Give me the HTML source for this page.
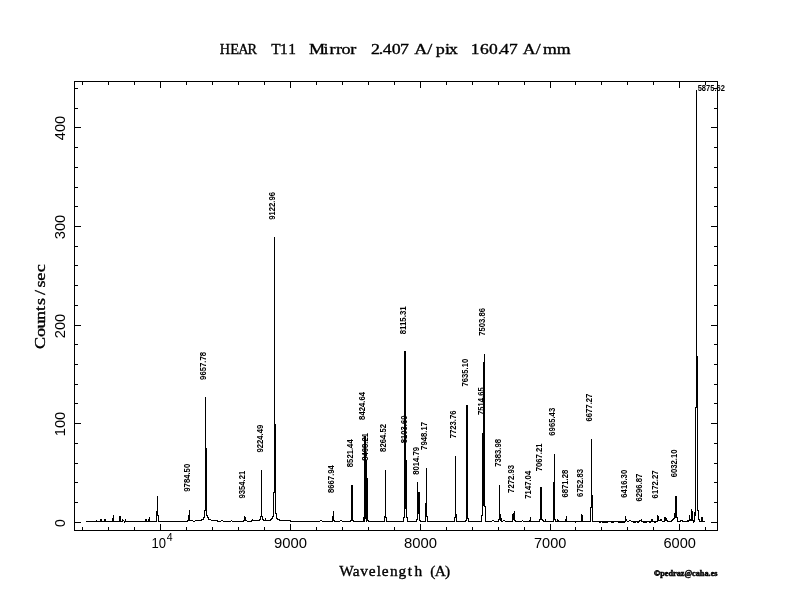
<!DOCTYPE html>
<html><head><meta charset="utf-8"><title>HEAR T11 Mirror</title>
<style>
html,body{margin:0;padding:0;background:#fff;}
svg{display:block;}
.s{font-family:"Liberation Sans",sans-serif;}
.r{font-family:"Liberation Serif",serif;}
</style></head><body>
<svg width="792" height="612" viewBox="0 0 792 612">
<rect x="0" y="0" width="792" height="612" fill="#fff"/>
<g fill="#000" shape-rendering="crispEdges">
<rect x="74" y="81" width="644" height="1"/><rect x="74" y="530" width="644" height="1"/><rect x="74" y="81" width="1" height="450"/><rect x="717" y="81" width="1" height="450"/><rect x="82" y="527" width="1" height="3"/><rect x="82" y="82" width="1" height="3"/><rect x="108" y="527" width="1" height="3"/><rect x="108" y="82" width="1" height="3"/><rect x="134" y="527" width="1" height="3"/><rect x="134" y="82" width="1" height="3"/><rect x="160" y="524" width="1" height="6"/><rect x="160" y="82" width="1" height="6"/><rect x="186" y="527" width="1" height="3"/><rect x="186" y="82" width="1" height="3"/><rect x="212" y="527" width="1" height="3"/><rect x="212" y="82" width="1" height="3"/><rect x="238" y="527" width="1" height="3"/><rect x="238" y="82" width="1" height="3"/><rect x="264" y="527" width="1" height="3"/><rect x="264" y="82" width="1" height="3"/><rect x="290" y="524" width="1" height="6"/><rect x="290" y="82" width="1" height="6"/><rect x="316" y="527" width="1" height="3"/><rect x="316" y="82" width="1" height="3"/><rect x="342" y="527" width="1" height="3"/><rect x="342" y="82" width="1" height="3"/><rect x="368" y="527" width="1" height="3"/><rect x="368" y="82" width="1" height="3"/><rect x="394" y="527" width="1" height="3"/><rect x="394" y="82" width="1" height="3"/><rect x="420" y="524" width="1" height="6"/><rect x="420" y="82" width="1" height="6"/><rect x="446" y="527" width="1" height="3"/><rect x="446" y="82" width="1" height="3"/><rect x="472" y="527" width="1" height="3"/><rect x="472" y="82" width="1" height="3"/><rect x="498" y="527" width="1" height="3"/><rect x="498" y="82" width="1" height="3"/><rect x="524" y="527" width="1" height="3"/><rect x="524" y="82" width="1" height="3"/><rect x="550" y="524" width="1" height="6"/><rect x="550" y="82" width="1" height="6"/><rect x="575" y="527" width="1" height="3"/><rect x="575" y="82" width="1" height="3"/><rect x="601" y="527" width="1" height="3"/><rect x="601" y="82" width="1" height="3"/><rect x="627" y="527" width="1" height="3"/><rect x="627" y="82" width="1" height="3"/><rect x="653" y="527" width="1" height="3"/><rect x="653" y="82" width="1" height="3"/><rect x="679" y="524" width="1" height="6"/><rect x="679" y="82" width="1" height="6"/><rect x="705" y="527" width="1" height="3"/><rect x="705" y="82" width="1" height="3"/><rect x="75" y="522" width="6" height="1"/><rect x="711" y="522" width="6" height="1"/><rect x="75" y="502" width="3" height="1"/><rect x="714" y="502" width="3" height="1"/><rect x="75" y="482" width="3" height="1"/><rect x="714" y="482" width="3" height="1"/><rect x="75" y="463" width="3" height="1"/><rect x="714" y="463" width="3" height="1"/><rect x="75" y="443" width="3" height="1"/><rect x="714" y="443" width="3" height="1"/><rect x="75" y="423" width="6" height="1"/><rect x="711" y="423" width="6" height="1"/><rect x="75" y="403" width="3" height="1"/><rect x="714" y="403" width="3" height="1"/><rect x="75" y="384" width="3" height="1"/><rect x="714" y="384" width="3" height="1"/><rect x="75" y="364" width="3" height="1"/><rect x="714" y="364" width="3" height="1"/><rect x="75" y="344" width="3" height="1"/><rect x="714" y="344" width="3" height="1"/><rect x="75" y="325" width="6" height="1"/><rect x="711" y="325" width="6" height="1"/><rect x="75" y="305" width="3" height="1"/><rect x="714" y="305" width="3" height="1"/><rect x="75" y="285" width="3" height="1"/><rect x="714" y="285" width="3" height="1"/><rect x="75" y="265" width="3" height="1"/><rect x="714" y="265" width="3" height="1"/><rect x="75" y="246" width="3" height="1"/><rect x="714" y="246" width="3" height="1"/><rect x="75" y="226" width="6" height="1"/><rect x="711" y="226" width="6" height="1"/><rect x="75" y="206" width="3" height="1"/><rect x="714" y="206" width="3" height="1"/><rect x="75" y="187" width="3" height="1"/><rect x="714" y="187" width="3" height="1"/><rect x="75" y="167" width="3" height="1"/><rect x="714" y="167" width="3" height="1"/><rect x="75" y="147" width="3" height="1"/><rect x="714" y="147" width="3" height="1"/><rect x="75" y="127" width="6" height="1"/><rect x="711" y="127" width="6" height="1"/><rect x="75" y="108" width="3" height="1"/><rect x="714" y="108" width="3" height="1"/><rect x="75" y="88" width="3" height="1"/><rect x="714" y="88" width="3" height="1"/><rect x="86" y="521" width="10" height="1"/><rect x="96" y="520" width="1" height="2"/><rect x="97" y="521" width="3" height="1"/><rect x="100" y="519" width="1" height="3"/><rect x="101" y="519" width="1" height="3"/><rect x="102" y="521" width="2" height="1"/><rect x="104" y="519" width="1" height="3"/><rect x="105" y="519" width="1" height="3"/><rect x="106" y="521" width="6" height="1"/><rect x="112" y="518" width="1" height="4"/><rect x="113" y="515" width="1" height="7"/><rect x="114" y="521" width="5" height="1"/><rect x="119" y="516" width="1" height="6"/><rect x="120" y="516" width="1" height="6"/><rect x="121" y="521" width="1" height="1"/><rect x="122" y="519" width="1" height="3"/><rect x="123" y="520" width="1" height="1"/><rect x="124" y="521" width="1" height="2"/><rect x="125" y="519" width="1" height="3"/><rect x="126" y="521" width="19" height="1"/><rect x="145" y="519" width="1" height="3"/><rect x="146" y="519" width="1" height="3"/><rect x="147" y="521" width="1" height="1"/><rect x="148" y="519" width="1" height="3"/><rect x="149" y="517" width="1" height="5"/><rect x="150" y="521" width="6" height="1"/><rect x="156" y="511" width="1" height="11"/><rect x="157" y="496" width="1" height="20"/><rect x="158" y="515" width="1" height="7"/><rect x="159" y="521" width="28" height="1"/><rect x="187" y="520" width="1" height="2"/><rect x="188" y="515" width="1" height="6"/><rect x="189" y="510" width="1" height="11"/><rect x="190" y="520" width="3" height="1"/><rect x="193" y="521" width="2" height="1"/><rect x="195" y="520" width="6" height="1"/><rect x="201" y="519" width="1" height="2"/><rect x="202" y="519" width="1" height="1"/><rect x="203" y="517" width="1" height="3"/><rect x="204" y="510" width="1" height="8"/><rect x="205" y="397" width="1" height="114"/><rect x="206" y="448" width="1" height="68"/><rect x="207" y="515" width="1" height="3"/><rect x="208" y="517" width="1" height="3"/><rect x="209" y="519" width="2" height="1"/><rect x="211" y="520" width="6" height="1"/><rect x="217" y="520" width="1" height="2"/><rect x="218" y="521" width="3" height="1"/><rect x="221" y="520" width="2" height="1"/><rect x="223" y="521" width="8" height="1"/><rect x="231" y="520" width="1" height="1"/><rect x="232" y="521" width="11" height="1"/><rect x="243" y="520" width="1" height="2"/><rect x="244" y="516" width="1" height="5"/><rect x="245" y="517" width="1" height="4"/><rect x="246" y="520" width="1" height="1"/><rect x="247" y="521" width="4" height="1"/><rect x="251" y="520" width="1" height="2"/><rect x="252" y="519" width="1" height="2"/><rect x="253" y="520" width="6" height="1"/><rect x="259" y="519" width="1" height="2"/><rect x="260" y="516" width="1" height="4"/><rect x="261" y="470" width="1" height="47"/><rect x="262" y="516" width="1" height="4"/><rect x="263" y="519" width="1" height="2"/><rect x="264" y="520" width="1" height="1"/><rect x="265" y="518" width="1" height="3"/><rect x="266" y="520" width="4" height="1"/><rect x="270" y="519" width="1" height="2"/><rect x="271" y="518" width="1" height="2"/><rect x="272" y="516" width="1" height="3"/><rect x="273" y="492" width="1" height="25"/><rect x="274" y="237" width="1" height="256"/><rect x="275" y="424" width="1" height="90"/><rect x="276" y="513" width="1" height="6"/><rect x="277" y="518" width="1" height="2"/><rect x="278" y="519" width="1" height="1"/><rect x="279" y="519" width="1" height="2"/><rect x="280" y="520" width="10" height="1"/><rect x="290" y="520" width="1" height="2"/><rect x="291" y="521" width="29" height="1"/><rect x="320" y="520" width="2" height="1"/><rect x="322" y="521" width="10" height="1"/><rect x="332" y="516" width="1" height="6"/><rect x="333" y="511" width="1" height="10"/><rect x="334" y="520" width="1" height="2"/><rect x="335" y="521" width="5" height="1"/><rect x="340" y="520" width="2" height="1"/><rect x="342" y="521" width="8" height="1"/><rect x="350" y="520" width="1" height="2"/><rect x="351" y="485" width="1" height="36"/><rect x="352" y="485" width="1" height="36"/><rect x="353" y="520" width="1" height="2"/><rect x="354" y="521" width="9" height="1"/><rect x="363" y="517" width="1" height="5"/><rect x="364" y="436" width="1" height="86"/><rect x="365" y="436" width="1" height="83"/><rect x="366" y="460" width="1" height="62"/><rect x="367" y="478" width="1" height="43"/><rect x="368" y="520" width="1" height="2"/><rect x="369" y="521" width="15" height="1"/><rect x="384" y="516" width="1" height="6"/><rect x="385" y="470" width="1" height="48"/><rect x="386" y="517" width="1" height="5"/><rect x="387" y="521" width="16" height="1"/><rect x="403" y="517" width="1" height="5"/><rect x="404" y="351" width="1" height="167"/><rect x="405" y="351" width="1" height="158"/><rect x="406" y="460" width="1" height="58"/><rect x="407" y="517" width="1" height="5"/><rect x="408" y="521" width="8" height="1"/><rect x="416" y="519" width="1" height="3"/><rect x="417" y="482" width="1" height="38"/><rect x="418" y="492" width="1" height="22"/><rect x="419" y="492" width="1" height="29"/><rect x="420" y="520" width="1" height="2"/><rect x="421" y="521" width="4" height="1"/><rect x="425" y="503" width="1" height="19"/><rect x="426" y="468" width="1" height="49"/><rect x="427" y="516" width="1" height="6"/><rect x="428" y="521" width="26" height="1"/><rect x="454" y="517" width="1" height="5"/><rect x="455" y="456" width="1" height="62"/><rect x="456" y="514" width="1" height="8"/><rect x="457" y="521" width="8" height="1"/><rect x="465" y="520" width="1" height="2"/><rect x="466" y="405" width="1" height="116"/><rect x="467" y="405" width="1" height="114"/><rect x="468" y="518" width="1" height="4"/><rect x="469" y="521" width="12" height="1"/><rect x="481" y="515" width="1" height="7"/><rect x="482" y="433" width="1" height="83"/><rect x="483" y="362" width="1" height="144"/><rect x="484" y="354" width="1" height="153"/><rect x="485" y="506" width="1" height="16"/><rect x="486" y="521" width="6" height="1"/><rect x="492" y="520" width="2" height="1"/><rect x="494" y="521" width="4" height="1"/><rect x="498" y="519" width="1" height="3"/><rect x="499" y="485" width="1" height="35"/><rect x="500" y="514" width="1" height="7"/><rect x="501" y="518" width="1" height="4"/><rect x="502" y="521" width="1" height="1"/><rect x="503" y="520" width="2" height="1"/><rect x="505" y="521" width="7" height="1"/><rect x="512" y="514" width="1" height="8"/><rect x="513" y="513" width="1" height="7"/><rect x="514" y="511" width="1" height="10"/><rect x="515" y="520" width="1" height="2"/><rect x="516" y="521" width="6" height="1"/><rect x="522" y="520" width="1" height="1"/><rect x="523" y="521" width="6" height="1"/><rect x="529" y="520" width="1" height="2"/><rect x="530" y="517" width="1" height="5"/><rect x="531" y="521" width="8" height="1"/><rect x="539" y="519" width="1" height="3"/><rect x="540" y="487" width="1" height="33"/><rect x="541" y="487" width="1" height="33"/><rect x="542" y="519" width="1" height="2"/><rect x="543" y="520" width="1" height="2"/><rect x="544" y="521" width="1" height="1"/><rect x="545" y="519" width="1" height="3"/><rect x="546" y="521" width="7" height="1"/><rect x="553" y="482" width="1" height="40"/><rect x="554" y="454" width="1" height="66"/><rect x="555" y="519" width="1" height="3"/><rect x="556" y="521" width="1" height="1"/><rect x="557" y="519" width="1" height="3"/><rect x="558" y="520" width="1" height="2"/><rect x="559" y="521" width="6" height="1"/><rect x="565" y="519" width="1" height="3"/><rect x="566" y="516" width="1" height="6"/><rect x="567" y="521" width="8" height="1"/><rect x="575" y="521" width="1" height="2"/><rect x="576" y="521" width="5" height="1"/><rect x="581" y="514" width="1" height="8"/><rect x="582" y="515" width="1" height="7"/><rect x="583" y="521" width="7" height="1"/><rect x="590" y="507" width="1" height="15"/><rect x="591" y="439" width="1" height="69"/><rect x="592" y="495" width="1" height="27"/><rect x="593" y="521" width="6" height="1"/><rect x="599" y="521" width="1" height="2"/><rect x="600" y="521" width="1" height="2"/><rect x="601" y="521" width="1" height="1"/><rect x="602" y="521" width="1" height="2"/><rect x="603" y="521" width="1" height="2"/><rect x="604" y="521" width="1" height="2"/><rect x="605" y="521" width="1" height="2"/><rect x="606" y="521" width="1" height="2"/><rect x="607" y="521" width="1" height="2"/><rect x="608" y="521" width="3" height="1"/><rect x="611" y="521" width="1" height="2"/><rect x="612" y="521" width="1" height="2"/><rect x="613" y="521" width="1" height="2"/><rect x="614" y="521" width="4" height="1"/><rect x="618" y="521" width="1" height="2"/><rect x="619" y="521" width="1" height="2"/><rect x="620" y="521" width="1" height="2"/><rect x="621" y="521" width="1" height="2"/><rect x="622" y="521" width="1" height="2"/><rect x="623" y="521" width="1" height="2"/><rect x="624" y="521" width="1" height="2"/><rect x="625" y="516" width="1" height="6"/><rect x="626" y="519" width="1" height="2"/><rect x="627" y="521" width="2" height="1"/><rect x="629" y="520" width="2" height="1"/><rect x="631" y="521" width="2" height="1"/><rect x="633" y="521" width="1" height="2"/><rect x="634" y="521" width="1" height="2"/><rect x="635" y="521" width="1" height="2"/><rect x="636" y="521" width="1" height="1"/><rect x="637" y="521" width="1" height="2"/><rect x="638" y="521" width="1" height="2"/><rect x="639" y="520" width="1" height="2"/><rect x="640" y="520" width="1" height="1"/><rect x="641" y="519" width="1" height="3"/><rect x="642" y="521" width="1" height="1"/><rect x="643" y="521" width="1" height="2"/><rect x="644" y="521" width="1" height="2"/><rect x="645" y="521" width="1" height="2"/><rect x="646" y="521" width="1" height="2"/><rect x="647" y="521" width="2" height="1"/><rect x="649" y="521" width="1" height="2"/><rect x="650" y="521" width="1" height="2"/><rect x="651" y="519" width="1" height="3"/><rect x="652" y="519" width="1" height="3"/><rect x="653" y="521" width="1" height="1"/><rect x="654" y="521" width="1" height="2"/><rect x="655" y="521" width="1" height="2"/><rect x="656" y="521" width="1" height="1"/><rect x="657" y="515" width="1" height="7"/><rect x="658" y="516" width="1" height="5"/><rect x="659" y="520" width="1" height="1"/><rect x="660" y="519" width="1" height="2"/><rect x="661" y="519" width="1" height="2"/><rect x="662" y="521" width="2" height="1"/><rect x="664" y="517" width="1" height="5"/><rect x="665" y="517" width="1" height="4"/><rect x="666" y="518" width="1" height="3"/><rect x="667" y="520" width="1" height="2"/><rect x="668" y="521" width="3" height="1"/><rect x="671" y="520" width="1" height="2"/><rect x="672" y="519" width="1" height="2"/><rect x="673" y="518" width="1" height="2"/><rect x="674" y="513" width="1" height="6"/><rect x="675" y="496" width="1" height="22"/><rect x="676" y="496" width="1" height="22"/><rect x="677" y="517" width="1" height="5"/><rect x="678" y="521" width="2" height="1"/><rect x="680" y="520" width="1" height="2"/><rect x="681" y="520" width="1" height="1"/><rect x="682" y="520" width="1" height="2"/><rect x="683" y="521" width="4" height="1"/><rect x="687" y="520" width="1" height="2"/><rect x="688" y="520" width="1" height="2"/><rect x="689" y="515" width="1" height="6"/><rect x="690" y="519" width="1" height="2"/><rect x="691" y="509" width="1" height="12"/><rect x="692" y="511" width="1" height="10"/><rect x="693" y="520" width="1" height="3"/><rect x="694" y="512" width="1" height="10"/><rect x="695" y="407" width="1" height="109"/><rect x="696" y="90" width="1" height="318"/><rect x="697" y="356" width="1" height="155"/><rect x="698" y="510" width="1" height="10"/><rect x="699" y="519" width="1" height="3"/><rect x="700" y="521" width="1" height="1"/><rect x="701" y="517" width="1" height="5"/><rect x="702" y="517" width="1" height="5"/><rect x="703" y="521" width="2" height="1"/>
</g>
<g class="r" font-size="15" fill="#000" stroke="#000" stroke-width="0.35">
<text transform="translate(220.1,54) scale(0.951,1)" x="-0.26 10.77 19.02 28.76" y="0">HEAR</text>
<text transform="translate(271.8,54) scale(1.026,1)" x="-0.55 7.89 15.98" y="0">T11</text>
<text transform="translate(310.7,54) scale(1.206,1)" x="-1.52 10.55 15.62 20.97 25.61 32.79" y="0">Mirror</text>
<text transform="translate(371.5,54) scale(1.191,1)" x="-0.52 6.14 9.36 16.98 23.96" y="0">2.407</text>
<text transform="translate(416.2,54) scale(1.209,1)" x="-1.59 9.20 16.14 23.83 27.00" y="0">A/pix</text>
<text transform="translate(472.3,54) scale(1.167,1)" x="-1.30 6.52 14.38 21.91 23.86 31.35" y="0">160.47</text>
<text transform="translate(525.0,54) scale(1.184,1)" x="-1.89 9.10 15.28 26.72" y="0">A/mm</text>
</g>
<text class="r" transform="translate(341.0,575.5) scale(1.061,1)" x="-1.65 11.13 18.09 26.10 33.74 38.48 46.20 54.14 63.01 69.36 78.06 84.12 88.43 97.95" y="0" font-size="14.5" stroke="#000" stroke-width="0.35">Wavelength (A)</text>
<text class="r" transform="translate(44.5,347) rotate(-90) scale(1.250,1)" x="-1.53 7.98 14.81 21.52 28.89 33.55 41.68 47.56 53.00 59.78" y="0" font-size="14.5" stroke="#000" stroke-width="0.35">Counts/sec</text>
<g class="s" font-size="14" fill="#000">
<text x="273.9" y="548" textLength="33.0" lengthAdjust="spacingAndGlyphs">9000</text>
<text x="403.9" y="548" textLength="33.0" lengthAdjust="spacingAndGlyphs">8000</text>
<text x="534.0" y="548" textLength="32.3" lengthAdjust="spacingAndGlyphs">7000</text>
<text x="663.5" y="548" textLength="32.5" lengthAdjust="spacingAndGlyphs">6000</text>
<text x="151.5" y="548" textLength="14.5" lengthAdjust="spacingAndGlyphs">10</text>
<text x="166.8" y="540.7" font-size="10.5">4</text>
</g>
<g class="s" font-size="14" fill="#000">
<text transform="translate(65,523.0) rotate(-90)" text-anchor="middle">0</text>
<text transform="translate(65,424.0) rotate(-90)" text-anchor="middle" textLength="24.5" lengthAdjust="spacingAndGlyphs">100</text>
<text transform="translate(65,326.0) rotate(-90)" text-anchor="middle" textLength="24.5" lengthAdjust="spacingAndGlyphs">200</text>
<text transform="translate(65,227.0) rotate(-90)" text-anchor="middle" textLength="24.5" lengthAdjust="spacingAndGlyphs">300</text>
<text transform="translate(65,128.0) rotate(-90)" text-anchor="middle" textLength="24.5" lengthAdjust="spacingAndGlyphs">400</text>
</g>
<g class="s" font-size="8.5" font-weight="bold" fill="#000">
<text transform="translate(190.1,491.7) rotate(-90)" textLength="27.9" lengthAdjust="spacingAndGlyphs">9784.50</text>
<text transform="translate(205.7,379.9) rotate(-90)" textLength="27.9" lengthAdjust="spacingAndGlyphs">9657.78</text>
<text transform="translate(245.0,498.6) rotate(-90)" textLength="27.9" lengthAdjust="spacingAndGlyphs">9354.21</text>
<text transform="translate(263.0,452.6) rotate(-90)" textLength="27.9" lengthAdjust="spacingAndGlyphs">9224.49</text>
<text transform="translate(274.8,219.8) rotate(-90)" textLength="27.9" lengthAdjust="spacingAndGlyphs">9122.96</text>
<text transform="translate(334.3,493.0) rotate(-90)" textLength="27.9" lengthAdjust="spacingAndGlyphs">8667.94</text>
<text transform="translate(352.5,467.2) rotate(-90)" textLength="27.9" lengthAdjust="spacingAndGlyphs">8521.44</text>
<text transform="translate(364.7,419.9) rotate(-90)" textLength="27.9" lengthAdjust="spacingAndGlyphs">8424.64</text>
<text transform="translate(368.1,460.8) rotate(-90)" textLength="27.9" lengthAdjust="spacingAndGlyphs">8408.21</text>
<text transform="translate(385.5,451.9) rotate(-90)" textLength="27.9" lengthAdjust="spacingAndGlyphs">8264.52</text>
<text transform="translate(405.5,334.3) rotate(-90)" textLength="27.9" lengthAdjust="spacingAndGlyphs">8115.31</text>
<text transform="translate(406.5,443.3) rotate(-90)" textLength="27.9" lengthAdjust="spacingAndGlyphs">8103.69</text>
<text transform="translate(418.8,474.8) rotate(-90)" textLength="27.9" lengthAdjust="spacingAndGlyphs">8014.79</text>
<text transform="translate(426.5,449.9) rotate(-90)" textLength="27.9" lengthAdjust="spacingAndGlyphs">7948.17</text>
<text transform="translate(455.8,438.3) rotate(-90)" textLength="27.9" lengthAdjust="spacingAndGlyphs">7723.76</text>
<text transform="translate(467.5,386.6) rotate(-90)" textLength="27.9" lengthAdjust="spacingAndGlyphs">7635.10</text>
<text transform="translate(484.7,335.8) rotate(-90)" textLength="27.9" lengthAdjust="spacingAndGlyphs">7503.86</text>
<text transform="translate(483.5,415.1) rotate(-90)" textLength="27.9" lengthAdjust="spacingAndGlyphs">7514.65</text>
<text transform="translate(500.7,466.8) rotate(-90)" textLength="27.9" lengthAdjust="spacingAndGlyphs">7383.98</text>
<text transform="translate(514.3,492.9) rotate(-90)" textLength="27.9" lengthAdjust="spacingAndGlyphs">7272.93</text>
<text transform="translate(531.1,498.7) rotate(-90)" textLength="27.9" lengthAdjust="spacingAndGlyphs">7147.04</text>
<text transform="translate(541.5,471.3) rotate(-90)" textLength="27.9" lengthAdjust="spacingAndGlyphs">7067.21</text>
<text transform="translate(555.0,435.7) rotate(-90)" textLength="27.9" lengthAdjust="spacingAndGlyphs">6965.43</text>
<text transform="translate(567.8,497.6) rotate(-90)" textLength="27.9" lengthAdjust="spacingAndGlyphs">6871.28</text>
<text transform="translate(582.5,496.9) rotate(-90)" textLength="27.9" lengthAdjust="spacingAndGlyphs">6752.83</text>
<text transform="translate(592.0,421.5) rotate(-90)" textLength="27.9" lengthAdjust="spacingAndGlyphs">6677.27</text>
<text transform="translate(626.9,497.7) rotate(-90)" textLength="27.9" lengthAdjust="spacingAndGlyphs">6416.30</text>
<text transform="translate(641.7,501.5) rotate(-90)" textLength="27.9" lengthAdjust="spacingAndGlyphs">6296.87</text>
<text transform="translate(658.4,498.4) rotate(-90)" textLength="27.9" lengthAdjust="spacingAndGlyphs">6172.27</text>
<text transform="translate(677.4,477.3) rotate(-90)" textLength="27.9" lengthAdjust="spacingAndGlyphs">6032.10</text>
<text x="697.7" y="90.8" textLength="27.2" lengthAdjust="spacingAndGlyphs">5875.62</text>
</g>
<text class="r" x="654" y="575.8" font-size="7.5" font-weight="bold" stroke="#000" stroke-width="0.45" textLength="63.5" lengthAdjust="spacingAndGlyphs">&#169;pedraz@caha.es</text>
</svg>
</body></html>
